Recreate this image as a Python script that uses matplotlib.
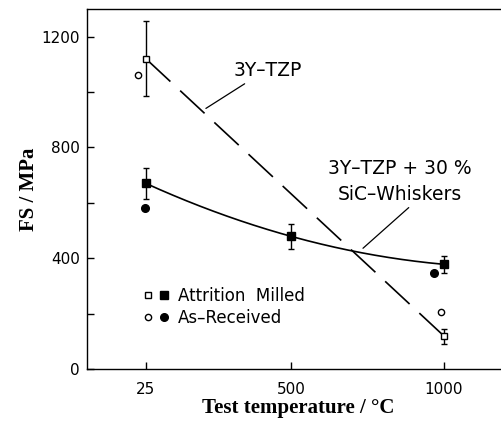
import numpy as np
import matplotlib
matplotlib.use('Agg')
import matplotlib.pyplot as plt
from matplotlib.legend_handler import HandlerTuple

# Attrition milled, 3Y-TZP (open squares)
tzp_x = [25, 1000]
tzp_fs = [1120, 119]
tzp_err = [135, 27]

# Attrition milled, 3Y-TZP + 30 % SiC whiskers (filled squares)
sic_x = [25, 500, 1000]
sic_fs = [670, 479, 378]
sic_err = [57, 45, 30]

# As-received (circles)
tzp_ar_x = [-1, 990]
tzp_ar_fs = [1063, 205]
sic_ar_x = [22, 967]
sic_ar_fs = [580, 346]

x_ticks = [25, 500, 1000]
y_ticks = [0, 400, 800, 1200]


def plot_data():
    fig = plt.figure(figsize=(5.02, 4.30), dpi=100)
    ax = fig.add_axes([87 / 502, 61 / 430, 423 / 502, 360 / 430])

    # fit lines
    plt.plot(tzp_x, tzp_fs, color='black', lw=1.2, dashes=(20, 8), zorder=1)
    coef = np.polyfit(sic_x, sic_fs, 2)
    xs = np.linspace(sic_x[0], sic_x[-1], 200)
    plt.plot(xs, np.polyval(coef, xs), color='black', lw=1.2, zorder=1)

    # points
    ax.errorbar(tzp_x, tzp_fs, yerr=tzp_err, fmt='s', ms=5, mfc='white',
                mec='black', mew=1.0, ecolor='black', elinewidth=1.0,
                capsize=2.5, capthick=1.0, zorder=3)
    ax.errorbar(sic_x, sic_fs, yerr=sic_err, fmt='s', ms=6, mfc='black',
                mec='black', ecolor='black', elinewidth=1.0,
                capsize=2.5, capthick=1.0, zorder=3)
    c_open, = ax.plot(tzp_ar_x, tzp_ar_fs, 'o', ms=4.5, mfc='white', mec='black',
                      mew=1.0, ls='none', zorder=3)
    c_fill, = ax.plot(sic_ar_x, sic_ar_fs, 'o', ms=5.5, mfc='black', mec='black',
                      ls='none', zorder=3)

    # legend
    h_sq_open, = ax.plot([], [], 's', ms=5, mfc='white', mec='black', mew=1.0)
    h_sq_fill, = ax.plot([], [], 's', ms=6, mfc='black', mec='black')
    ax.legend([(h_sq_open, h_sq_fill), (c_open, c_fill)],
              ['Attrition  Milled', 'As\u2013Received'],
              handler_map={tuple: HandlerTuple(ndivide=None, pad=0.3)},
              loc='upper left', bbox_to_anchor=(0.132, 0.228), frameon=False,
              borderpad=0, borderaxespad=0, handlelength=1.6, handletextpad=0.5,
              labelspacing=0.25, fontsize=12)

    # labels on the lines
    ax.annotate('3Y\u2013TZP', xy=(221, 941), xytext=(310, 1077), fontsize=13.5,
                ha='left', va='center',
                arrowprops=dict(arrowstyle='-', color='black', lw=0.9,
                                relpos=(0.25, 0.0), shrinkA=1, shrinkB=0))
    ax.annotate('3Y\u2013TZP + 30 %\nSiC\u2013Whiskers', xy=(735, 436),
                xytext=(856, 677), fontsize=13.5, ha='center', va='center',
                linespacing=1.45,
                arrowprops=dict(arrowstyle='-', color='black', lw=0.9,
                                relpos=(0.59, 0.0), shrinkA=1, shrinkB=0))

    ax.set_xlim(-168, 1216)
    ax.set_ylim(0, 1300)
    ax.set_xticks(x_ticks)
    ax.set_yticks(y_ticks)
    ax.set_yticks([200, 600, 1000], minor=True)
    ax.tick_params(axis='both', which='both', direction='in', length=5, width=1,
                   labelsize=11)
    ax.tick_params(axis='x', pad=9)
    ax.tick_params(axis='y', pad=5)
    ax.spines['right'].set_visible(False)
    for s in ['left', 'bottom', 'top']:
        ax.spines[s].set_linewidth(1.0)

    ax.set_xlabel('Test temperature / \u00b0C', fontsize=15, fontweight='bold',
                  family='Liberation Serif', labelpad=1)
    ax.set_ylabel('FS / MPa', fontsize=15, fontweight='bold',
                  family='Liberation Serif', labelpad=2)

    fig.savefig('out.png', dpi=100)


def main():
    plot_data()


if __name__ == '__main__':
    main()
